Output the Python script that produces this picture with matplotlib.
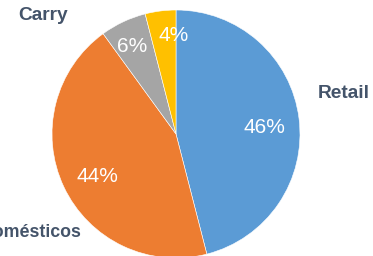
import matplotlib
matplotlib.use("Agg")
import matplotlib.pyplot as plt

categories = ["Retail", "Domésticos", "Carry", ""]
values = [46, 44, 6, 4]
colors = ["#5B9BD5", "#ED7D31", "#A5A5A5", "#FFC000"]

# layout (axes units, radius = 1)
label_pos = [(1.355, 0.290, "center"), (-0.758, -0.831, "right"), (-1.073, 0.919, "center"), None]
label_size = [13.8, 12.8, 13.8, 13.8]
pct_pos = [(0.714, 0.008), (-0.637, -0.387), (-0.355, 0.661), (-0.020, 0.750)]

plt.rcParams['font.family'] = ['Liberation Sans', 'DejaVu Sans']

fig = plt.figure(figsize=(3.73, 2.56), dpi=100)
ax = fig.add_axes([52/373, -2/256, 248/373, 248/256])
wedges, texts = ax.pie(
    values, colors=colors, startangle=90, counterclock=False, radius=1,
    wedgeprops=dict(edgecolor="white", linewidth=0.4))
ax.set_xlim(-1, 1)
ax.set_ylim(-1, 1)
total = sum(values)
for v, (x, y) in zip(values, pct_pos):
    ax.text(x, y, f"{100 * v / total:.0f}%", ha="center", va="baseline",
            fontsize=15, color="white")
for name, pos, fs in zip(categories, label_pos, label_size):
    if pos is None or not name:
        continue
    ax.text(pos[0], pos[1], name, ha=pos[2], va="baseline", fontsize=fs,
            fontweight="bold", color="#44546A", clip_on=False)
fig.savefig("out.png", dpi=100)
